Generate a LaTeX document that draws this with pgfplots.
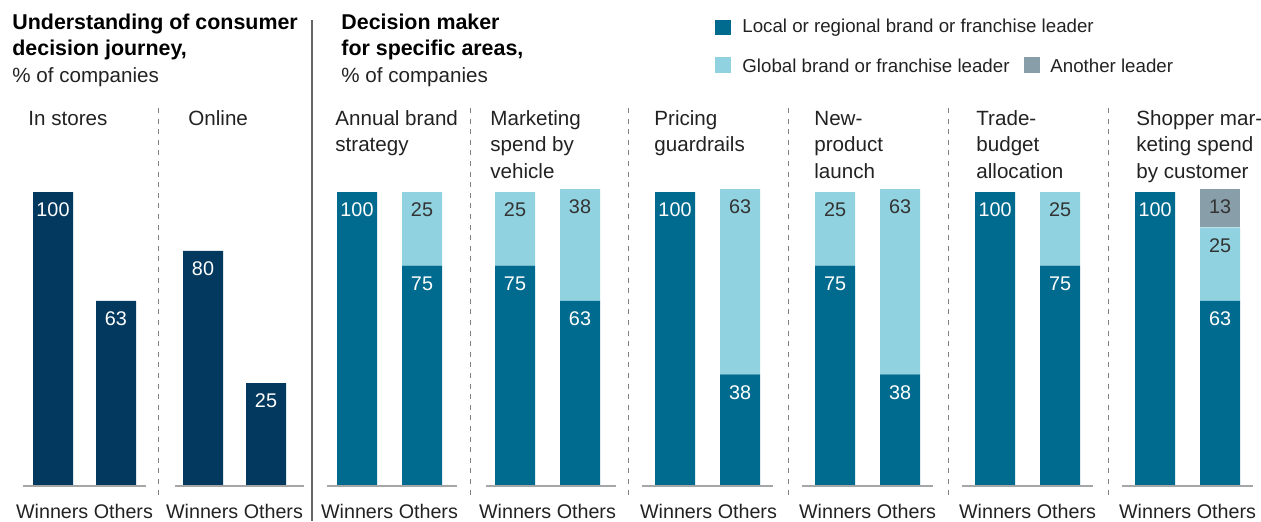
\documentclass[border=0pt]{standalone}
\usepackage{pgfplots}
\pgfplotsset{compat=1.18}
\usepackage{fontspec}
\setmainfont{Liberation Sans}
\definecolor{navy}{HTML}{03395F}
\definecolor{teal}{HTML}{006B8E}
\definecolor{light}{HTML}{90D2E0}
\definecolor{another}{HTML}{889EA9}
\definecolor{txt}{HTML}{222222}
\definecolor{darktxt}{HTML}{333333}
\def\zerostr{0}
\newcommand{\py}[1]{(486-(#1))/2.94}
\newcommand{\labfont}{\fontsize{10.3}{13}\selectfont}
\newcommand{\titfont}{\fontsize{10.7}{13}\selectfont\bfseries}
\newcommand{\numfont}{\fontsize{9.9}{12}\selectfont}
\newcommand{\wofont}{\fontsize{9.85}{12}\selectfont}
\newcommand{\legfont}{\fontsize{9.35}{12}\selectfont}
% text line at pixel x, pixel baseline
\newcommand{\tl}[3]{\node[anchor=base west, inner sep=0pt, font=\labfont, text=txt] at (axis cs:#1,{\py{#2}}) {#3};}
\newcommand{\ttl}[3]{\node[anchor=base west, inner sep=0pt, font=\titfont, text=black] at (axis cs:#1,{\py{#2}}) {#3};}
\newcommand{\wo}[1]{\node[anchor=base, inner sep=0pt, font=\wofont, text=txt] at (axis cs:#1,{\py{518}}) {Winners Others};}
\newcommand{\dl}[1]{\draw[color=black!50, line width=0.5pt, dash pattern=on 2.5pt off 2.8pt] (axis cs:#1,{\py{108}}) -- (axis cs:#1,{\py{495}});}
\newcommand{\bl}[2]{\draw[color=black!35, line width=0.85pt] (axis cs:#1,0) -- (axis cs:#2,0);}

\begin{document}
\begin{tikzpicture}
\begin{axis}[
  width=630.5pt, height=260.5pt, scale only axis,
  xmin=0, xmax=1261, ymin=-11.905, ymax=165.306,
  hide axis, clip=false,
  ybar stacked, bar width=40,
  point meta=explicit symbolic,
  visualization depends on={rawy \as \rawy},
  nodes near coords={\edef\tmp{\pgfplotspointmeta}\ifx\tmp\zerostr\else\tmp\fi},
  every node near coord/.append style={anchor=center, yshift={\rawy*0.735pt-9pt}, inner sep=0pt, font=\numfont},
]
\coordinate (BL) at (axis cs:0,-11.905);
\coordinate (TR) at (axis cs:1261,165.306);
% baselines
\bl{23}{146}
\bl{175}{304}
\bl{327}{457}
\bl{486}{616}
\bl{642}{773}
\bl{802}{933}
\bl{962}{1093}
\bl{1122}{1253}
% bars (the "Online / Others" bar is drawn at ~35 in the reference, labelled 25)
\addplot[fill=navy, draw=none, every node near coord/.append style={text=white}] coordinates {(53,100)[100] (116,63)[63] (203,80)[80] (266,35)[25] (357,0)[0] (422,0)[0] (515,0)[0] (580,0)[0] (675,0)[0] (740,0)[0] (835,0)[0] (900,0)[0] (995,0)[0] (1060,0)[0] (1155,0)[0] (1220,0)[0]};
\addplot[fill=teal, draw=none, every node near coord/.append style={text=white}] coordinates {(53,0)[0] (116,0)[0] (203,0)[0] (266,0)[0] (357,100)[100] (422,75)[75] (515,75)[75] (580,63)[63] (675,100)[100] (740,38)[38] (835,75)[75] (900,38)[38] (995,100)[100] (1060,75)[75] (1155,100)[100] (1220,63)[63]};
\addplot[fill=light, draw=none, every node near coord/.append style={text=darktxt}] coordinates {(53,0)[0] (116,0)[0] (203,0)[0] (266,0)[0] (357,0)[0] (422,25)[25] (515,25)[25] (580,38)[38] (675,0)[0] (740,63)[63] (835,25)[25] (900,63)[63] (995,0)[0] (1060,25)[25] (1155,0)[0] (1220,25)[25]};
\addplot[fill=another, draw=none, every node near coord/.append style={text=darktxt}] coordinates {(53,0)[0] (116,0)[0] (203,0)[0] (266,0)[0] (357,0)[0] (422,0)[0] (515,0)[0] (580,0)[0] (675,0)[0] (740,0)[0] (835,0)[0] (900,0)[0] (995,0)[0] (1060,0)[0] (1155,0)[0] (1220,13)[13]};
% separators
\dl{158}
\dl{470}
\dl{628}
\dl{788}
\dl{948}
\dl{1108}
\draw[color=black!60, line width=0.7pt] (axis cs:312,{\py{20}}) -- (axis cs:312,{\py{521}});
% titles
\ttl{12}{29.5}{Understanding of consumer}
\ttl{12}{55.5}{decision journey,}
\tl{12}{82}{\% of companies}
\ttl{341}{29.5}{Decision maker}
\ttl{341}{55.5}{for specific areas,}
\tl{341}{82}{\% of companies}
% category labels
\tl{28}{125}{In stores}
\tl{188}{125}{Online}
\tl{335}{125}{Annual brand}
\tl{335}{151.5}{strategy}
\tl{490}{125}{Marketing}
\tl{490}{151.5}{spend by}
\tl{490}{178}{vehicle}
\tl{654}{125}{Pricing}
\tl{654}{151.5}{guardrails}
\tl{814}{125}{New-}
\tl{814}{151.5}{product}
\tl{814}{178}{launch}
\tl{976}{125}{Trade-}
\tl{976}{151.5}{budget}
\tl{976}{178}{allocation}
\tl{1136}{125}{Shopper mar-}
\tl{1136}{151.5}{keting spend}
\tl{1136}{178}{by customer}
% winners / others
\wo{84.5}
\wo{234.5}
\wo{389.5}
\wo{547.5}
\wo{708.5}
\wo{867.5}
\wo{1027.5}
\wo{1187.5}
% legend
\fill[teal] (axis cs:715,{\py{35.5}}) rectangle (axis cs:731,{\py{20}});
\fill[light] (axis cs:715,{\py{72.5}}) rectangle (axis cs:731,{\py{57}});
\fill[another] (axis cs:1024,{\py{72.5}}) rectangle (axis cs:1040,{\py{57}});
\node[anchor=base west, inner sep=0pt, font=\legfont, text=txt] at (axis cs:742,{\py{32.5}}) {Local or regional brand or franchise leader};
\node[anchor=base west, inner sep=0pt, font=\legfont, text=txt] at (axis cs:742,{\py{72.3}}) {Global brand or franchise leader};
\node[anchor=base west, inner sep=0pt, font=\legfont, text=txt] at (axis cs:1050,{\py{72.3}}) {Another leader};
\end{axis}
\pgfresetboundingbox
\path[use as bounding box] (BL) rectangle (TR);
\end{tikzpicture}
\end{document}
